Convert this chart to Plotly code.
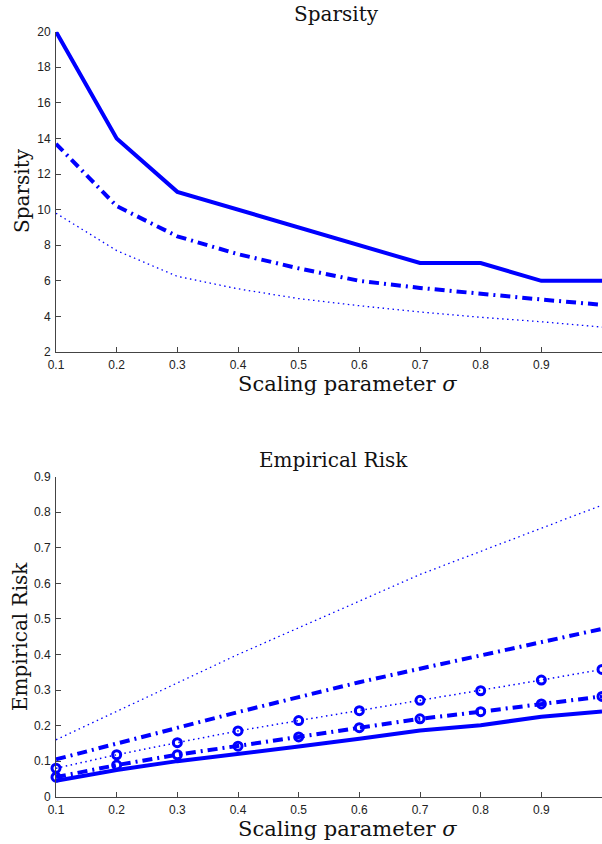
import plotly.graph_objects as go

sigma = [0.1, 0.2, 0.3, 0.4, 0.5, 0.6, 0.7, 0.8, 0.9, 1.0]

# Sparsity
sp_solid = [20, 14, 11, 10, 9, 8, 7, 7, 6, 6]
sp_dashdot = [13.7, 10.2, 8.5, 7.5, 6.7, 6.0, 5.6, 5.25, 4.95, 4.65]
sp_dotted = [9.8, 7.7, 6.25, 5.55, 5.0, 4.6, 4.25, 3.95, 3.7, 3.4]

# Empirical risk
er_solid = [0.045, 0.075, 0.1, 0.12, 0.141, 0.163, 0.186, 0.201, 0.225, 0.24]
er_dotted = [0.16, 0.24, 0.32, 0.40, 0.475, 0.55, 0.625, 0.69, 0.755, 0.82]
er_dashdot = [0.105, 0.15, 0.195, 0.238, 0.28, 0.322, 0.36, 0.398, 0.436, 0.472]
er_dotted_o = [0.08, 0.118, 0.152, 0.185, 0.214, 0.242, 0.271, 0.298, 0.328, 0.358]
er_dashdot_o = [0.055, 0.089, 0.118, 0.142, 0.168, 0.194, 0.219, 0.239, 0.261, 0.282]

sp_ticks = [2, 4, 6, 8, 10, 12, 14, 16, 18, 20]
er_ticks = [0, 0.1, 0.2, 0.3, 0.4, 0.5, 0.6, 0.7, 0.8, 0.9]
x_ticks = sigma
x_ticklabels = ["0.1", "0.2", "0.3", "0.4", "0.5", "0.6", "0.7", "0.8", "0.9", "1"]

BLUE = "#0000FF"
DASHDOT = "10px,5px,2px,5px"
DOT = "1.5px,3.5px"

fig = go.Figure()

def add(x, y, xa, ya, width, dash, markers=False):
    fig.add_trace(go.Scatter(
        x=x, y=y, xaxis=xa, yaxis=ya,
        mode="lines+markers" if markers else "lines",
        line=dict(color=BLUE, width=width, dash=dash),
        marker=dict(symbol="circle-open", size=8, color=BLUE,
                    line=dict(color=BLUE, width=3)) if markers else None,
        showlegend=False, hoverinfo="skip", cliponaxis=False,
    ))

# top
add(sigma, sp_dotted, "x", "y", 1.3, DOT)
add(sigma, sp_dashdot, "x", "y", 4, DASHDOT)
add(sigma, sp_solid, "x", "y", 4, "solid")
# bottom
add(sigma, er_dotted, "x2", "y2", 1.3, DOT)
add(sigma, er_dashdot, "x2", "y2", 4, DASHDOT)
add(sigma, er_dotted_o, "x2", "y2", 1.5, DOT, markers=True)
add(sigma, er_dashdot_o, "x2", "y2", 4, DASHDOT, markers=True)
add(sigma, er_solid, "x2", "y2", 4, "solid")

H = 844.0
W = 602.0
L = 56.0

def ydom(top_px, bot_px):
    return [1 - bot_px / H, 1 - top_px / H]

tickfont = dict(family="Liberation Sans, Arial, sans-serif", size=12, color="#222222")
axis_common = dict(
    showgrid=False, zeroline=False, showline=True, linecolor="#444444", linewidth=1,
    ticks="inside", ticklen=5, tickcolor="#444444", tickwidth=1,
    tickfont=tickfont, mirror=False, fixedrange=True, automargin=False,
)

fig.update_layout(
    width=602, height=844,
    margin=dict(l=56, r=0, t=0, b=0, autoexpand=False),
    paper_bgcolor="white", plot_bgcolor="white",
    xaxis=dict(domain=[0, 1], range=[0.1, 1.0], tickvals=x_ticks, ticktext=x_ticklabels,
               anchor="y", ticklabelstandoff=2, **axis_common),
    yaxis=dict(domain=ydom(31.7, 352), range=[2, 20], tickvals=sp_ticks, anchor="x",
               ticklabelstandoff=2, **axis_common),
    xaxis2=dict(domain=[0, 1], range=[0.1, 1.0], tickvals=x_ticks, ticktext=x_ticklabels,
                anchor="y2", ticklabelstandoff=2, **axis_common),
    yaxis2=dict(domain=ydom(476.7, 796.7), range=[0, 0.9], tickvals=er_ticks, anchor="x2",
                ticklabelstandoff=2, **axis_common),
)

serif = "DejaVu Serif, Liberation Serif, serif"

def ann(text, xpx, ypx, size, angle=0):
    fig.add_annotation(
        text=text, xref="paper", yref="paper",
        x=(xpx - L) / (W - L), y=1 - ypx / H,
        xanchor="center", yanchor="middle", showarrow=False, textangle=angle,
        borderpad=0,
        font=dict(family=serif, size=size, color="#111111"),
    )

ann("Sparsity", 336, 14, 20)
ann("Sparsity", 22, 191, 20, angle=-90)
ann("Scaling parameter <i>σ</i>", 347, 384, 21)
ann("Empirical Risk", 333, 460, 20)
ann("Empirical Risk", 20, 637, 20, angle=-90)
ann("Scaling parameter <i>σ</i>", 347, 829, 21)

fig.write_html(
    "out.html",
    config={"displayModeBar": False},
    post_script="document.body.style.margin='0';document.body.style.overflow='hidden';",
)
